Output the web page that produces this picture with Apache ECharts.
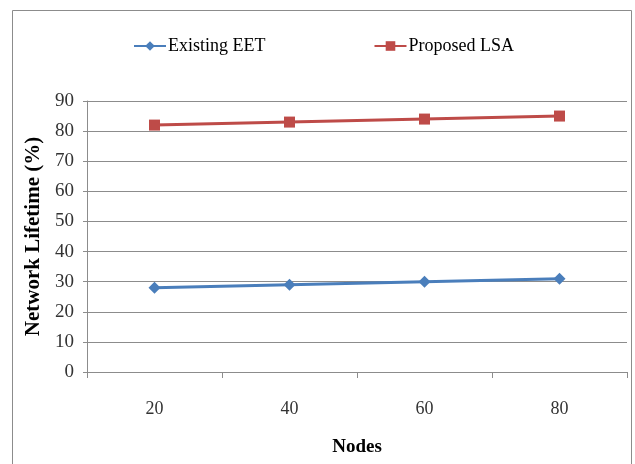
<!DOCTYPE html>
<html><head><meta charset="utf-8">
<script src="https://cdn.jsdelivr.net/npm/echarts@6/dist/echarts.min.js"></script>
<style>html,body{margin:0;padding:0;background:#fff}#c{width:635px;height:464px}</style>
</head><body><div id="c"></div>
<script>
const categories = ['20', '40', '60', '80'];
const existingEET = [28, 29, 30, 31];
const proposedLSA = [82, 83, 84, 85];
const yTicks = [0, 10, 20, 30, 40, 50, 60, 70, 80, 90];

const chart = echarts.init(document.getElementById('c'));
const font = '"Liberation Serif", "Times New Roman", serif';
chart.setOption({
  animation: false,
  backgroundColor: '#fff',
  graphic: [{
    type: 'rect', shape: {x: 12.5, y: 10.5, width: 619, height: 470},
    style: {fill: 'none', stroke: '#8c8c8c', lineWidth: 1}, silent: true, z: -1
  }],
  legend: {
    top: 32, left: 128, itemGap: 108, itemWidth: 32, itemHeight: 12,
    textStyle: {fontFamily: font, fontSize: 18, color: '#000', padding: [0, 0, 0, -3]},
    data: ['Existing EET', 'Proposed LSA']
  },
  grid: {left: 87, right: 8, top: 101, bottom: 92},
  xAxis: {
    type: 'category', data: categories, boundaryGap: true,
    name: 'Nodes', nameLocation: 'middle', nameGap: 66,
    nameTextStyle: {fontFamily: font, fontSize: 19, fontWeight: 'bold', color: '#000'},
    axisLine: {lineStyle: {color: '#8c8c8c', width: 1}},
    axisTick: {show: true, length: 6, lineStyle: {color: '#8c8c8c'}},
    axisLabel: {fontFamily: font, fontSize: 18, color: '#333', margin: 28}
  },
  yAxis: {
    type: 'value', min: 0, max: 90, interval: 10,
    name: 'Network Lifetime (%)', nameLocation: 'middle', nameGap: 43,
    nameTextStyle: {fontFamily: font, fontSize: 21, fontWeight: 'bold', color: '#000'},
    axisLine: {show: true, lineStyle: {color: '#8c8c8c', width: 1}},
    axisTick: {show: true, length: 4, lineStyle: {color: '#8c8c8c'}},
    axisLabel: {fontFamily: font, fontSize: 19, color: '#333', margin: 13,
      formatter: v => yTicks.includes(v) ? String(v) : ''},
    splitLine: {lineStyle: {color: '#8c8c8c', width: 1}}
  },
  series: [{
    name: 'Existing EET', type: 'line', data: existingEET,
    symbol: 'diamond', symbolSize: 12,
    lineStyle: {color: '#4a7ebb', width: 3},
    itemStyle: {color: '#4a7ebb'}
  }, {
    name: 'Proposed LSA', type: 'line', data: proposedLSA,
    symbol: 'rect', symbolSize: 11,
    lineStyle: {color: '#be4b48', width: 3},
    itemStyle: {color: '#be4b48'}
  }]
});
</script></body></html>
